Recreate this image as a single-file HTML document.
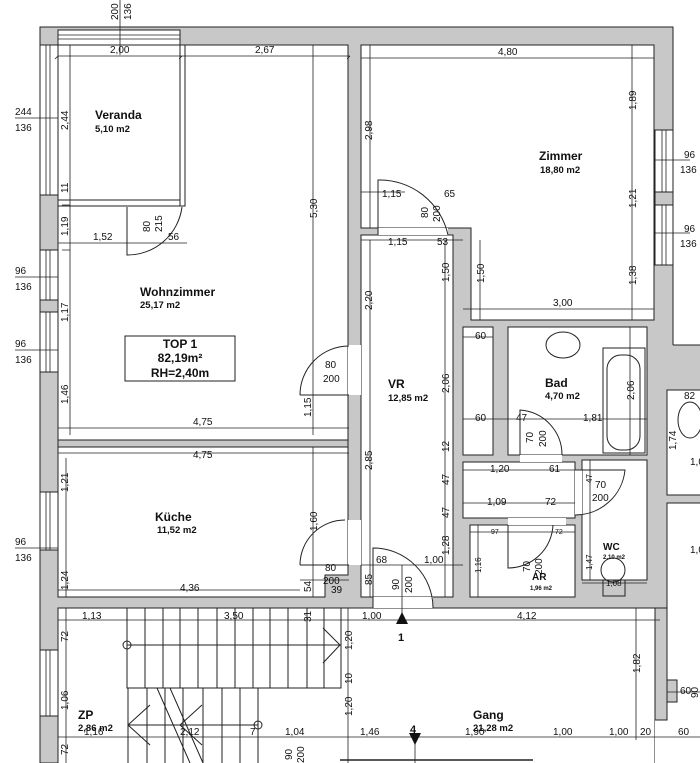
<!DOCTYPE html>
<html><head><meta charset="utf-8"><style>
html,body{margin:0;padding:0;background:#fff;}
svg{display:block;}
text{font-family:"Liberation Sans",sans-serif;fill:#111;}
.d{font-size:10px;}
.n{font-size:12px;font-weight:bold;}
.a{font-size:9.5px;font-weight:bold;}
</style></head><body>
<svg width="700" height="763" viewBox="0 0 700 763" xmlns="http://www.w3.org/2000/svg">
<rect x="40" y="27" width="633" height="736" fill="#c8c8c8" stroke="#222" stroke-width="1"/>
<rect x="648" y="345" width="52" height="418" fill="#c8c8c8"/>
<rect x="673.5" y="0" width="30" height="345" fill="#fff"/>
<line x1="673" y1="27" x2="673" y2="345" stroke="#222"/>
<line x1="673" y1="345" x2="700" y2="345" stroke="#222"/>
<g fill="#fff" stroke="#222" stroke-width="1">
<rect x="58" y="30" width="122" height="15"/>
<rect x="58" y="45" width="290" height="395"/>
<polygon points="58,447 348,447 348,575 325,575 325,597 58,597"/>
<polygon points="361,45 654,45 654,320 471,320 471,228 361,228"/>
<rect x="361" y="235" width="92" height="362"/>
<rect x="463" y="327" width="30" height="128"/>
<rect x="508" y="327" width="139" height="128"/>
<rect x="463" y="462" width="112" height="56"/>
<rect x="582" y="460" width="65" height="120"/>
<rect x="470" y="525" width="105" height="72"/>
<rect x="58" y="608" width="597" height="160"/>
<rect x="667" y="390" width="40" height="105"/>
<rect x="667" y="503" width="40" height="270"/>
<rect x="655" y="720" width="14" height="50" stroke="none"/>
<rect x="40" y="45" width="18" height="150"/>
<rect x="40" y="250" width="18" height="50"/>
<rect x="40" y="312" width="18" height="60"/>
<rect x="40" y="492" width="18" height="58"/>
<rect x="40" y="650" width="18" height="66"/>
<rect x="655" y="130" width="18" height="62"/>
<rect x="655" y="205" width="18" height="60"/>
</g>
<rect x="655" y="608" width="12" height="112" fill="#c8c8c8" stroke="#222"/>
<rect x="667" y="680" width="10" height="22" fill="#c8c8c8" stroke="#222"/>
<g stroke="#222" stroke-width="0.8" fill="none">
<line x1="46" y1="45" x2="46" y2="195"/><line x1="50" y1="45" x2="50" y2="195"/>
<line x1="46" y1="250" x2="46" y2="372"/><line x1="50" y1="250" x2="50" y2="372"/>
<line x1="46" y1="492" x2="46" y2="550"/><line x1="50" y1="492" x2="50" y2="550"/>
<line x1="46" y1="650" x2="46" y2="716"/><line x1="50" y1="650" x2="50" y2="716"/>
<line x1="662" y1="130" x2="662" y2="265"/><line x1="666" y1="130" x2="666" y2="265"/>
<line x1="58" y1="35" x2="180" y2="35"/><line x1="58" y1="39" x2="180" y2="39"/>
</g>
<rect x="40" y="300" width="18" height="12" fill="#c8c8c8" stroke="#222"/>
<rect x="655" y="192" width="18" height="13" fill="#c8c8c8" stroke="#222"/>
<g stroke="#222" fill="#fff">
<rect x="58" y="200" width="127" height="6"/>
<rect x="180" y="45" width="5" height="161"/>
</g>
<rect x="58" y="440" width="290" height="7" fill="#c8c8c8" stroke="#222"/>
<rect x="348" y="345" width="13" height="50" fill="#fff"/>
<rect x="348" y="520" width="13" height="45" fill="#fff"/>
<rect x="373" y="597" width="60" height="11" fill="#fff"/>
<rect x="378" y="228" width="70" height="7" fill="#fff"/>
<rect x="520" y="455" width="42" height="7" fill="#fff"/>
<rect x="575" y="470" width="7" height="45" fill="#fff"/>
<rect x="508" y="518" width="58" height="7" fill="#fff"/>
<g stroke="#222" fill="none" stroke-width="1">
<path d="M127,207 L127,255 A55,55 0 0 0 182,207"/>
<path d="M300,395 L349,395 M300,395 A49,49 0 0 1 349,346"/>
<path d="M300,565 L349,565 M300,565 A45,45 0 0 1 345,520"/>
<path d="M378,235 L378,180 A70,70 0 0 1 448,235"/>
<path d="M373,608 L373,548 A60,60 0 0 1 433,608"/>
<path d="M520,455 L520,410 A45,45 0 0 1 562,455"/>
<path d="M575,470 L625,470 A50,50 0 0 1 575,515"/>
<path d="M508,525 L508,568 A45,45 0 0 0 553,525"/>
<ellipse cx="563" cy="345" rx="17" ry="13"/>
<rect x="603" y="348" width="42" height="105"/>
<rect x="607" y="355" width="33" height="95" rx="14"/>
<ellipse cx="613" cy="570" rx="12" ry="12"/>
<rect x="603" y="580" width="22" height="16"/>
<ellipse cx="690" cy="420" rx="12" ry="18"/>
<rect x="127" y="608" width="214" height="80"/>
<path d="M145,608V688M163,608V688M180,608V688M198,608V688M217,608V688M235,608V688M253,608V688M270,608V688M288,608V688M307,608V688M324,608V688"/>
<path d="M127,645H341M323,628L340,645L323,663"/>
<circle cx="127" cy="645" r="4"/>
<path d="M128,688V763M147,688V763M165,688V763M183,688V763M203,688V763M222,688V763M240,688V763M258,688V763"/>
<path d="M157,688L190,763M170,688L203,763M128,725H258M150,705L128,725L150,745M202,705L180,725L202,745"/>
<circle cx="258" cy="725" r="4"/>
<line x1="340" y1="760" x2="533" y2="760" stroke-width="1.5"/>
<rect x="125" y="336" width="110" height="45" fill="#fff"/>
</g>
<g stroke="#222" stroke-width="0.8" fill="none">
<path d="M120,0V55 M58,56H350 M58,56l-3,3 M182,56l-3,3 M350,56l-3,3"/>
<path d="M361,58H654 M70,45V435 M62,205H70 M62,250H70"/>
<path d="M58,243H187 M313,45V435 M58,428H349 M58,453H349 M66,458V597"/>
<path d="M313,447V597 M58,590H300 M300,580H349"/>
<path d="M370,45V228 M361,192H405 M370,240V597 M361,240H463 M445,240V597 M480,240V320"/>
<path d="M463,309H654 M632,45V320 M655,160H690 M655,233H690 M15,118H58 M15,277H58 M15,350H58 M15,548H58"/>
<path d="M463,337H493 M463,419H647 M630,327V455 M463,470H575 M463,503H575 M590,460V580 M582,583H647"/>
<path d="M470,532H575 M478,525V597 M361,565H463 M402,565V608"/>
<path d="M58,620H660 M66,608V763 M348,608V763 M58,737H700 M636,608V740"/>
<path d="M402,620V608 M415,737V763 M667,692H700"/>
</g>
<polygon points="402,612 396,624 408,624" fill="#111"/>
<polygon points="415,745 409,733 421,733" fill="#111"/>
<g class="d">
<text x="110" y="53">2,00</text><text x="255" y="53">2,67</text><text x="498" y="55">4,80</text>
<text transform="translate(118,20) rotate(-90)">200</text><text transform="translate(131,20) rotate(-90)">136</text>
<text x="15" y="115">244</text><text x="15" y="131">136</text>
<text x="15" y="274">96</text><text x="15" y="290">136</text>
<text x="15" y="347">96</text><text x="15" y="363">136</text>
<text x="15" y="545">96</text><text x="15" y="561">136</text>
<text x="684" y="158">96</text><text x="680" y="173">136</text>
<text x="684" y="232">96</text><text x="680" y="247">136</text>
<text transform="translate(68,130) rotate(-90)">2,44</text>
<text transform="translate(68,193) rotate(-90)">11</text>
<text transform="translate(68,236) rotate(-90)">1,19</text>
<text transform="translate(68,322) rotate(-90)">1,17</text>
<text transform="translate(68,404) rotate(-90)">1,46</text>
<text transform="translate(68,492) rotate(-90)">1,21</text>
<text transform="translate(68,590) rotate(-90)">1,24</text>
<text transform="translate(68,642) rotate(-90)">72</text>
<text transform="translate(68,710) rotate(-90)">1,06</text>
<text transform="translate(68,755) rotate(-90)">72</text>
<text x="93" y="240">1,52</text><text x="168" y="240">56</text>
<text transform="translate(150,232) rotate(-90)">80</text><text transform="translate(162,232) rotate(-90)">215</text>
<text transform="translate(317,218) rotate(-90)">5,30</text>
<text x="193" y="425">4,75</text><text x="193" y="458">4,75</text>
<text transform="translate(311,417) rotate(-90)">1,15</text>
<text x="325" y="368">80</text><text x="323" y="382">200</text>
<text transform="translate(317,531) rotate(-90)">1,60</text>
<text x="180" y="591">4,36</text>
<text x="325" y="571">80</text><text x="323" y="584">200</text><text x="331" y="593">39</text>
<text transform="translate(311,592) rotate(-90)">54</text>
<text transform="translate(311,622) rotate(-90)">31</text>
<text transform="translate(372,140) rotate(-90)">2,98</text>
<text x="382" y="197">1,15</text><text x="444" y="197">65</text>
<text transform="translate(428,218) rotate(-90)">80</text><text transform="translate(440,222) rotate(-90)">200</text>
<text x="388" y="245">1,15</text><text x="437" y="245">53</text>
<text transform="translate(372,310) rotate(-90)">2,20</text>
<text transform="translate(449,282) rotate(-90)">1,50</text>
<text transform="translate(484,283) rotate(-90)">1,50</text>
<text x="553" y="306">3,00</text>
<text transform="translate(636,110) rotate(-90)">1,89</text>
<text transform="translate(636,208) rotate(-90)">1,21</text>
<text transform="translate(636,285) rotate(-90)">1,38</text>
<text x="475" y="339">60</text><text x="475" y="421">60</text>
<text x="516" y="421">47</text><text x="583" y="421">1,81</text>
<text transform="translate(449,393) rotate(-90)">2,06</text>
<text transform="translate(634,400) rotate(-90)">2,06</text>
<text transform="translate(533,443) rotate(-90)">70</text><text transform="translate(546,447) rotate(-90)">200</text>
<text transform="translate(372,470) rotate(-90)">2,85</text>
<text transform="translate(449,452) rotate(-90)">12</text>
<text transform="translate(449,485) rotate(-90)">47</text>
<text transform="translate(449,518) rotate(-90)">47</text>
<text transform="translate(449,555) rotate(-90)">1,28</text>
<text x="490" y="472">1,20</text><text x="549" y="472">61</text>
<text x="487" y="505">1,09</text><text x="545" y="505">72</text>
<text transform="translate(592,483) rotate(-90)" style="font-size:8px">47</text>
<text x="595" y="488">70</text><text x="592" y="501">200</text>
<text transform="translate(592,570) rotate(-90)" style="font-size:8px">1,47</text>
<text x="606" y="586" style="font-size:8px">1,08</text>
<text x="491" y="534" style="font-size:7px">97</text><text x="555" y="534" style="font-size:7px">72</text>
<text transform="translate(481,573) rotate(-90)" style="font-size:8px">1,16</text>
<text transform="translate(530,572) rotate(-90)">70</text><text transform="translate(542,575) rotate(-90)">200</text>
<text x="376" y="563">68</text><text x="424" y="563">1,00</text>
<text transform="translate(372,585) rotate(-90)">85</text>
<text transform="translate(399,590) rotate(-90)">90</text><text transform="translate(412,593) rotate(-90)">200</text>
<text x="82" y="619">1,13</text><text x="224" y="619">3,50</text><text x="362" y="619">1,00</text><text x="517" y="619">4,12</text>
<text x="398" y="641" style="font-size:11px;font-weight:bold">1</text>
<text x="410" y="733" style="font-size:11px;font-weight:bold">4</text>
<text transform="translate(352,650) rotate(-90)">1,20</text>
<text transform="translate(352,684) rotate(-90)">10</text>
<text transform="translate(352,716) rotate(-90)">1,20</text>
<text transform="translate(640,673) rotate(-90)">1,82</text>
<text x="680" y="694">60</text><text transform="translate(698,698) rotate(-90)">90</text>
<text transform="translate(676,450) rotate(-90)">1,74</text>
<text x="684" y="399">82</text><text x="690" y="465">1,0</text><text x="690" y="553">1,0</text>
<text x="84" y="735">1,16</text><text x="180" y="735">2,12</text><text x="250" y="735">7</text><text x="285" y="735">1,04</text>
<text x="360" y="735">1,46</text><text x="465" y="735">1,90</text><text x="553" y="735">1,00</text><text x="609" y="735">1,00</text>
<text x="640" y="735">20</text><text x="678" y="735">60</text>
<text transform="translate(292,760) rotate(-90)">90</text><text transform="translate(304,763) rotate(-90)">200</text>
</g>
<g>
<text class="n" x="95" y="119">Veranda</text><text class="a" x="95" y="132">5,10 m2</text>
<text class="n" x="140" y="296">Wohnzimmer</text><text class="a" x="140" y="308">25,17 m2</text>
<text class="n" x="155" y="521">Küche</text><text class="a" x="157" y="533">11,52 m2</text>
<text class="n" x="539" y="160">Zimmer</text><text class="a" x="540" y="173">18,80 m2</text>
<text class="n" x="388" y="388">VR</text><text class="a" x="388" y="401">12,85 m2</text>
<text class="n" x="545" y="387">Bad</text><text class="a" x="545" y="399">4,70 m2</text>
<text class="n" x="603" y="550" style="font-size:10px">WC</text><text x="603" y="559" style="font-size:6px;font-weight:bold">2,10 m2</text>
<text class="n" x="532" y="580" style="font-size:10px">AR</text><text x="530" y="590" style="font-size:6px;font-weight:bold">1,96 m2</text>
<text class="n" x="78" y="719">ZP</text><text class="a" x="78" y="731">2,86 m2</text>
<text class="n" x="473" y="719">Gang</text><text class="a" x="473" y="731">21,28 m2</text>
<text x="180" y="348" text-anchor="middle" style="font-size:12px;font-weight:bold">TOP 1</text>
<text x="180" y="362" text-anchor="middle" style="font-size:12px;font-weight:bold">82,19m²</text>
<text x="180" y="377" text-anchor="middle" style="font-size:12px;font-weight:bold">RH=2,40m</text>
</g>
</svg>
</body></html>
